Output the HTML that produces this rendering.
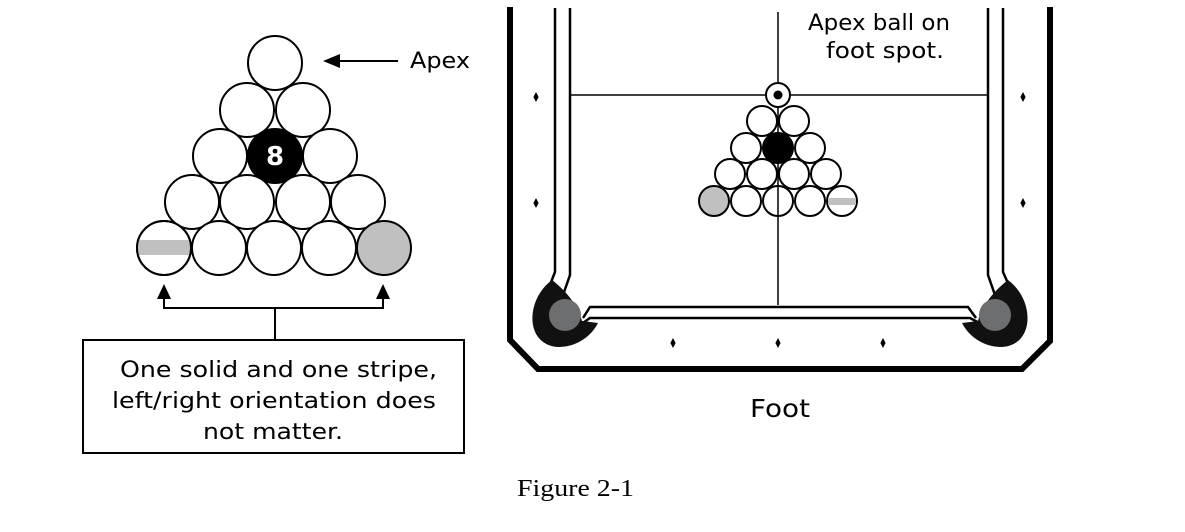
<!DOCTYPE html>
<html><head><meta charset="utf-8"><style>
html,body{margin:0;padding:0;background:#fff;}
svg{display:block}
text{font-family:"DejaVu Sans","Liberation Sans",sans-serif;}
</style></head><body>
<svg width="1185" height="532" viewBox="0 0 1185 532" xmlns="http://www.w3.org/2000/svg">
<defs>
<path id="dia" d="M0,-5 L2.6,0 L0,5 L-2.6,0Z" fill="#000"/>
</defs>
<!-- LEFT RACK -->
<g stroke="#000" stroke-width="2" fill="#fff">
<circle cx="275" cy="63" r="27"/>
<circle cx="247" cy="110" r="27"/><circle cx="303" cy="110" r="27"/>
<circle cx="220" cy="156" r="27"/><circle cx="275" cy="156" r="27" fill="#000"/><circle cx="330" cy="156" r="27"/>
<circle cx="192" cy="202" r="27"/><circle cx="247" cy="202" r="27"/><circle cx="303" cy="202" r="27"/><circle cx="358" cy="202" r="27"/>
<circle cx="164" cy="248" r="27"/><circle cx="219" cy="248" r="27"/><circle cx="274" cy="248" r="27"/><circle cx="329" cy="248" r="27"/><circle cx="384" cy="248" r="27" fill="#c0c0c0"/>
</g>
<rect x="138" y="240" width="52" height="15" fill="#c0c0c0"/>
<circle cx="164" cy="248" r="27" fill="none" stroke="#000" stroke-width="2"/>
<text x="275" y="165" fill="#fff" font-size="26" font-weight="bold" text-anchor="middle">8</text>
<!-- apex arrow -->
<line x1="335" y1="61" x2="398" y2="61" stroke="#000" stroke-width="2"/>
<path d="M323,61 L340,54 L340,68Z" fill="#000"/>
<text x="410" y="68" font-size="22" textLength="60" lengthAdjust="spacingAndGlyphs">Apex</text>
<!-- bracket -->
<g stroke="#000" stroke-width="2" fill="none">
<polyline points="164,297 164,308 383,308 383,297"/>
<line x1="275" y1="308" x2="275" y2="340"/>
<rect x="83" y="340" width="381" height="113"/>
</g>
<path d="M164,284 L157,299 L171,299Z M383,284 L376,299 L390,299Z" fill="#000"/>
<g font-size="22">
<text x="120" y="377" textLength="317" lengthAdjust="spacingAndGlyphs">One solid and one stripe,</text>
<text x="112" y="408" textLength="324" lengthAdjust="spacingAndGlyphs">left/right orientation does</text>
<text x="203" y="439" textLength="140" lengthAdjust="spacingAndGlyphs">not matter.</text>
</g>
<!-- TABLE -->
<path d="M510,7 L510,340 L538,369 L1022,369 L1050,341 L1050,7" fill="none" stroke="#000" stroke-width="6"/>
<g stroke="#000" stroke-width="2.5" fill="none">
<polyline points="555,8 555,272 548,290"/>
<polyline points="570,8 570,275 563,295"/>
<polyline points="988,8 988,275 995,295"/>
<polyline points="1003,8 1003,272 1011,290"/>
<polyline points="583,318 590,307 968,307 976,318"/>
<polyline points="580,325 590,318 970,318 983,325"/>
</g>
<!-- pockets -->
<path d="M552,280 C525,300 525,345 558,347 C578,347 592,335 598,323 L582,321 C578,305 565,290 552,280Z" fill="#111"/>
<circle cx="565" cy="315" r="16" fill="#6d6e70"/>
<path d="M1008,280 C1035,300 1035,345 1002,347 C982,347 968,335 962,323 L978,321 C982,305 995,290 1008,280Z" fill="#111"/>
<circle cx="995" cy="315" r="16" fill="#6d6e70"/>
<!-- strings -->
<g stroke="#000" stroke-width="1.5">
<line x1="778" y1="12" x2="778" y2="305"/>
<line x1="570" y1="95" x2="988" y2="95"/>
</g>
<!-- table rack -->
<g stroke="#000" stroke-width="2" fill="#fff">
<circle cx="778" cy="95" r="12"/>
<circle cx="762" cy="121" r="15"/><circle cx="794" cy="121" r="15"/>
<circle cx="746" cy="148" r="15"/><circle cx="778" cy="148" r="15" fill="#000"/><circle cx="810" cy="148" r="15"/>
<circle cx="730" cy="174" r="15"/><circle cx="762" cy="174" r="15"/><circle cx="794" cy="174" r="15"/><circle cx="826" cy="174" r="15"/>
<circle cx="714" cy="201" r="15" fill="#c0c0c0"/><circle cx="746" cy="201" r="15"/><circle cx="778" cy="201" r="15"/><circle cx="810" cy="201" r="15"/><circle cx="842" cy="201" r="15"/>
</g>
<rect x="828" y="198" width="28" height="7" fill="#c0c0c0"/>
<line x1="778" y1="186" x2="778" y2="216" stroke="#000" stroke-width="1.5"/>
<circle cx="778" cy="95" r="4.5" fill="#000"/>
<use href="#dia" x="536" y="97"/><use href="#dia" x="536" y="203"/>
<use href="#dia" x="1023" y="97"/><use href="#dia" x="1023" y="203"/>
<use href="#dia" x="673" y="343"/><use href="#dia" x="778" y="343"/><use href="#dia" x="883" y="343"/>
<text x="808" y="30" font-size="22" textLength="142" lengthAdjust="spacingAndGlyphs">Apex ball on</text>
<text x="826" y="58" font-size="22" textLength="118" lengthAdjust="spacingAndGlyphs">foot spot.</text>
<text x="750" y="417" font-size="25" textLength="60" lengthAdjust="spacingAndGlyphs">Foot</text>
<text x="517" y="496" font-size="24" textLength="117" lengthAdjust="spacingAndGlyphs" style="font-family:'Liberation Serif',serif">Figure 2-1</text>
</svg>
</body></html>
